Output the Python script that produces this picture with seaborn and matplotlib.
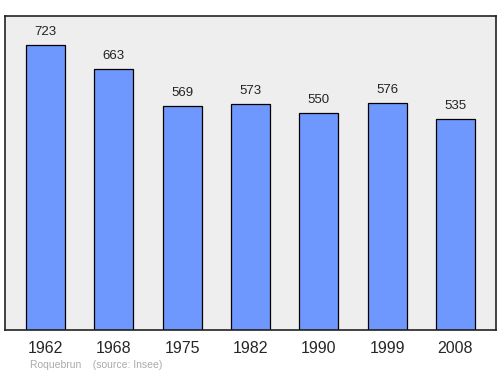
import matplotlib
matplotlib.use("Agg")
import matplotlib.pyplot as plt
import seaborn as sns
import pandas as pd

years = ["1962", "1968", "1975", "1982", "1990", "1999", "2008"]
population = [723, 663, 569, 573, 550, 576, 535]

sns.set_style("white")
plt.rcParams['font.family'] = ['Liberation Sans', 'DejaVu Sans']

df = pd.DataFrame({"year": years, "pop": population})

fig = plt.figure(figsize=(5.0, 3.74), dpi=100)
ax = fig.add_axes([0.01, 0.1176, 0.982, 0.8396])
ax.set_facecolor("#eeeeee")

sns.barplot(data=df, x="year", y="pop", color="#6f98ff", saturation=1,
            width=0.57, edgecolor="black", linewidth=0.9, ax=ax)

for i, v in enumerate(population):
    ax.text(i, v + 18, str(v), ha="center", va="bottom", fontsize=9.5, color="#222222")

ax.set_xlim(-0.593, 6.593)
ax.set_ylim(0, 797)
ax.set_yticks([])
ax.set_xlabel("")
ax.set_ylabel("")
ax.tick_params(axis="x", length=0, labelsize=11.5, pad=8)
for s in ax.spines.values():
    s.set_color("#222222")
    s.set_linewidth(1.2)

fig.text(0.06, 0.016, "Roquebrun    (source: Insee)", fontsize=7.5, color="#aaaaaa")

fig.savefig("out.png", dpi=100, facecolor="white")
